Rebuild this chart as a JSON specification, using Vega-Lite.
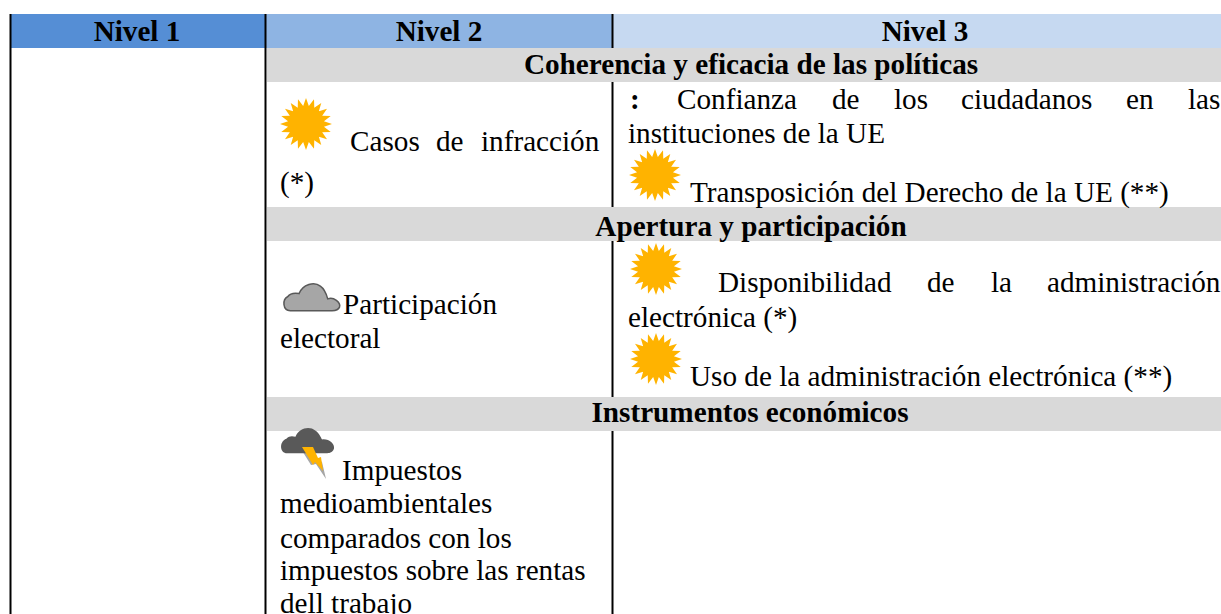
{
"$schema":"https://vega.github.io/schema/vega-lite/v6.json",
"width":1221,"height":614,"padding":0,"autosize":{"type":"none"},"background":"white",
"config":{"view":{"stroke":null}},
"datasets":{
"rules":[{"x":10.5,"y":14,"y2":614},{"x":265.5,"y":14,"y2":614},{"x":612.5,"y":14,"y2":614}],
"head":[
{"cell":"Nivel 1","x":10,"x2":265,"y":14,"y2":48},
{"cell":"Nivel 2","x":265,"x2":612,"y":14,"y2":48},
{"cell":"Nivel 3","x":612,"x2":1221,"y":14,"y2":48}],
"cells":[
{"cell":"Sección","x":267,"x2":1221,"y":48,"y2":82},
{"cell":"Sección","x":267,"x2":1221,"y":207,"y2":241},
{"cell":"Sección","x":267,"x2":1221,"y":397,"y2":431}],
"bold":[
{"t":"Nivel 1","x":137,"y":41},{"t":"Nivel 2","x":439,"y":41},{"t":"Nivel 3","x":925,"y":41},
{"t":"Coherencia y eficacia de las políticas","x":751,"y":74},
{"t":"Apertura y participación","x":751,"y":236},
{"t":"Instrumentos económicos","x":750,"y":422}],
"body":[
{"t":"Casos","x":350,"y":151},{"t":"de","x":436,"y":151},{"t":"infracción","x":481,"y":151},{"t":"(*)","x":280,"y":192},
{"t":"Confianza","x":677,"y":109},{"t":"de","x":832,"y":109},{"t":"los","x":894,"y":109},{"t":"ciudadanos","x":961,"y":109},{"t":"en","x":1126,"y":109},{"t":"las","x":1188,"y":109},
{"t":"instituciones de la UE","x":628,"y":143},
{"t":"Transposición del Derecho de la UE (**)","x":690,"y":202},
{"t":"Disponibilidad","x":718,"y":292},{"t":"de","x":927,"y":292},{"t":"la","x":991,"y":292},{"t":"administración","x":1047,"y":292},
{"t":"electrónica (*)","x":628,"y":327},
{"t":"Uso de la administración electrónica (**)","x":690,"y":386},
{"t":"Participación","x":343,"y":314},{"t":"electoral","x":280,"y":348},
{"t":"Impuestos","x":342,"y":480},{"t":"medioambientales","x":280,"y":513},{"t":"comparados con los","x":280,"y":548},{"t":"impuestos sobre las rentas","x":280,"y":580},{"t":"dell trabajo","x":280,"y":613}],
"colon":[{"t":":","x":630,"y":109}],
"suns":[{"x":306,"y":124},{"x":655,"y":175},{"x":656,"y":269},{"x":656,"y":359}],
"cloud":[{"x":311.5,"y":296.5}],
"storm":[{"x":307,"y":440}],
"bolt":[{"x":312,"y":460}]
},
"encoding":{
"x":{"field":"x","type":"quantitative","scale":{"domain":[0,1221],"nice":false,"zero":false},"axis":null},
"y":{"field":"y","type":"quantitative","scale":{"domain":[614,0],"nice":false,"zero":false},"axis":null}
},
"layer":[
{"data":{"name":"head"},"mark":{"type":"rect"},"encoding":{"x2":{"field":"x2"},"y2":{"field":"y2"},"color":{"field":"cell","type":"nominal","legend":null,"scale":{"domain":["Nivel 1","Nivel 2","Nivel 3","Sección"],"range":["#558ED5","#8EB4E3","#C6D9F1","#D9D9D9"]}}}},
{"data":{"name":"rules"},"mark":{"type":"rule","color":"black","strokeWidth":2},"encoding":{"y2":{"field":"y2"}}},
{"data":{"name":"cells"},"mark":{"type":"rect"},"encoding":{"x2":{"field":"x2"},"y2":{"field":"y2"},"color":{"field":"cell","type":"nominal","legend":null,"scale":{"domain":["Nivel 1","Nivel 2","Nivel 3","Sección"],"range":["#558ED5","#8EB4E3","#C6D9F1","#D9D9D9"]}}}},
{"data":{"name":"bold"},"mark":{"type":"text","font":"Liberation Serif","fontWeight":"bold","fontSize":29.2,"align":"center","baseline":"alphabetic","color":"black"},"encoding":{"text":{"field":"t"}}},
{"data":{"name":"body"},"mark":{"type":"text","font":"Liberation Serif","fontSize":29.2,"align":"left","baseline":"alphabetic","color":"black"},"encoding":{"text":{"field":"t"}}},
{"data":{"name":"colon"},"mark":{"type":"text","font":"Liberation Serif","fontWeight":"bold","fontSize":29.2,"align":"left","baseline":"alphabetic","color":"black"},"encoding":{"text":{"field":"t"}}},
{"data":{"name":"suns"},"mark":{"type":"point","filled":true,"opacity":1,"color":"#FFB300","size":2700,"strokeWidth":0,"shape":"M1 0L.691 .109L.951 .309L.623 .318L.809 .588L.495 .495L.588 .809L.318 .623L.309 .951L.109 .691L0 1L-.109 .691L-.309 .951L-.318 .623L-.588 .809L-.495 .495L-.809 .588L-.623 .318L-.951 .309L-.691 .109L-1 0L-.691 -.109L-.951 -.309L-.623 -.318L-.809 -.588L-.495 -.495L-.588 -.809L-.318 -.623L-.309 -.951L-.109 -.691L0 -1L.109 -.691L.309 -.951L.318 -.623L.588 -.809L.495 -.495L.809 -.588L.623 -.318L.951 -.309L.691 -.109Z"}},
{"data":{"name":"cloud"},"mark":{"type":"point","filled":true,"opacity":1,"fill":"#A6A6A6","stroke":"#595959","strokeWidth":1.5,"size":3481,"shape":"M-.72 .48C-.98 .48 -1 .1 -.8 0C-.72 -.12 -.55 -.12 -.42 -.1C-.3 -.42 .1 -.52 .3 -.35C.45 -.25 .5 -.1 .55 .08C.75 0 1 .2 .95 .36C.9 .48 .8 .48 .7 .48Z"}},
{"data":{"name":"bolt"},"mark":{"type":"point","filled":true,"opacity":1,"color":"#A6A6A6","strokeWidth":0,"size":1600,"shape":"M-.55 -.55L-.05 .25L.2 .2L.7 .95L.5 .1L.2 -.1Z"}},
{"data":{"name":"storm"},"mark":{"type":"point","filled":true,"opacity":1,"color":"#595959","strokeWidth":0,"size":3025,"shape":"M-.72 .48C-1 .48 -1.02 .05 -.75 -.05C-.65 -.15 -.55 -.15 -.42 -.12C-.3 -.45 .1 -.52 .3 -.35C.45 -.25 .5 -.1 .55 -.02C.8 -.05 1.02 .15 .98 .32C.92 .48 .8 .48 .7 .48Z"}},
{"data":{"name":"bolt"},"mark":{"type":"point","filled":true,"opacity":1,"color":"#FFB300","strokeWidth":0,"size":1600,"shape":"M-.5 -.65L.05 -.65L.3 -.1L.45 -.15L.55 .55L.15 .1L.05 .25Z"}}
]
}
